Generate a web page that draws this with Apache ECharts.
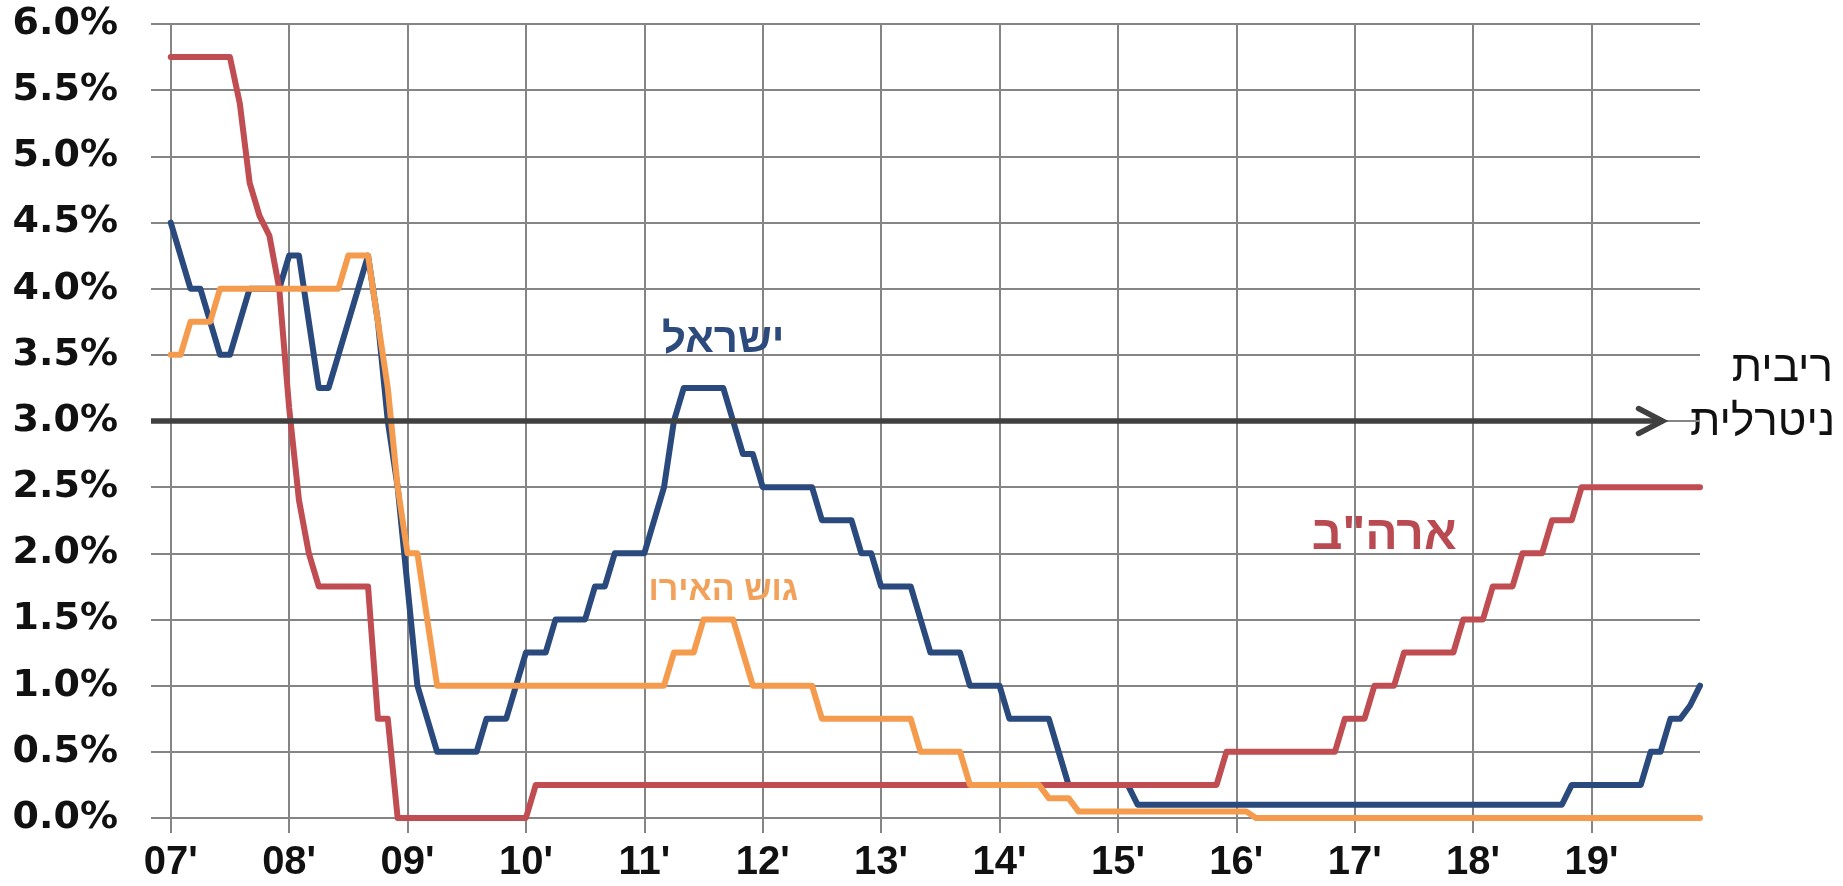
<!DOCTYPE html>
<html>
<head>
<meta charset="utf-8">
<script src="https://cdn.jsdelivr.net/npm/echarts@6.0.0/dist/echarts.min.js"></script>
<style>
html,body{margin:0;padding:0;background:#ffffff;}
#chart{width:1843px;height:886px;}
</style>
</head>
<body>
<div id="chart"></div>
<script>
// ---------- data ----------
// monthly axis: Nov 2006 .. Dec 2019 (first data month is Jan 2007)
const axisStart = [2006, 11];
const axisEnd = [2019, 12];
const firstDataMonth = '2007-01';

const yearLabels = ["07'", "08'", "09'", "10'", "11'", "12'", "13'", "14'", "15'", "16'", "17'", "18'", "19'"];
const yTicks = [0, 0.5, 1, 1.5, 2, 2.5, 3, 3.5, 4, 4.5, 5, 5.5, 6];

// Israel (monthly, Jan 2007 .. Dec 2019)
const israel = [
  4.5, 4.25, 4.0, 4.0, 3.75, 3.5, 3.5, 3.75, 4.0, 4.0, 4.0, 4.0,
  4.25, 4.25, 3.75, 3.25, 3.25, 3.5, 3.75, 4.0, 4.25, 3.75, 3.0, 2.5,
  1.75, 1.0, 0.75, 0.5, 0.5, 0.5, 0.5, 0.5, 0.75, 0.75, 0.75, 1.0,
  1.25, 1.25, 1.25, 1.5, 1.5, 1.5, 1.5, 1.75, 1.75, 2.0, 2.0, 2.0,
  2.0, 2.25, 2.5, 3.0, 3.25, 3.25, 3.25, 3.25, 3.25, 3.0, 2.75, 2.75,
  2.5, 2.5, 2.5, 2.5, 2.5, 2.5, 2.25, 2.25, 2.25, 2.25, 2.0, 2.0,
  1.75, 1.75, 1.75, 1.75, 1.5, 1.25, 1.25, 1.25, 1.25, 1.0, 1.0, 1.0,
  1.0, 0.75, 0.75, 0.75, 0.75, 0.75, 0.5, 0.25, 0.25, 0.25, 0.25, 0.25,
  0.25, 0.25, 0.1, 0.1, 0.1, 0.1, 0.1, 0.1, 0.1, 0.1, 0.1, 0.1,
  0.1, 0.1, 0.1, 0.1, 0.1, 0.1, 0.1, 0.1, 0.1, 0.1, 0.1, 0.1,
  0.1, 0.1, 0.1, 0.1, 0.1, 0.1, 0.1, 0.1, 0.1, 0.1, 0.1, 0.1,
  0.1, 0.1, 0.1, 0.1, 0.1, 0.1, 0.1, 0.1, 0.1, 0.1, 0.25, 0.25,
  0.25, 0.25, 0.25, 0.25, 0.25, 0.25, 0.5, 0.5, 0.75, 0.75, 0.85, 1.0
];

// USA
const usa = [
  5.75, 5.75, 5.75, 5.75, 5.75, 5.75, 5.75, 5.4, 4.8, 4.55, 4.4, 4.0,
  3.1, 2.4, 2.0, 1.75, 1.75, 1.75, 1.75, 1.75, 1.75, 0.75, 0.75, 0.0,
  0.0, 0.0, 0.0, 0.0, 0.0, 0.0, 0.0, 0.0, 0.0, 0.0, 0.0, 0.0,
  0.0, 0.25, 0.25, 0.25, 0.25, 0.25, 0.25, 0.25, 0.25, 0.25, 0.25, 0.25,
  0.25, 0.25, 0.25, 0.25, 0.25, 0.25, 0.25, 0.25, 0.25, 0.25, 0.25, 0.25,
  0.25, 0.25, 0.25, 0.25, 0.25, 0.25, 0.25, 0.25, 0.25, 0.25, 0.25, 0.25,
  0.25, 0.25, 0.25, 0.25, 0.25, 0.25, 0.25, 0.25, 0.25, 0.25, 0.25, 0.25,
  0.25, 0.25, 0.25, 0.25, 0.25, 0.25, 0.25, 0.25, 0.25, 0.25, 0.25, 0.25,
  0.25, 0.25, 0.25, 0.25, 0.25, 0.25, 0.25, 0.25, 0.25, 0.25, 0.25, 0.5,
  0.5, 0.5, 0.5, 0.5, 0.5, 0.5, 0.5, 0.5, 0.5, 0.5, 0.5, 0.75,
  0.75, 0.75, 1.0, 1.0, 1.0, 1.25, 1.25, 1.25, 1.25, 1.25, 1.25, 1.5,
  1.5, 1.5, 1.75, 1.75, 1.75, 2.0, 2.0, 2.0, 2.25, 2.25, 2.25, 2.5,
  2.5, 2.5, 2.5, 2.5, 2.5, 2.5, 2.5, 2.5, 2.5, 2.5, 2.5, 2.5
];

// Euro area
const euro = [
  3.5, 3.5, 3.75, 3.75, 3.75, 4.0, 4.0, 4.0, 4.0, 4.0, 4.0, 4.0,
  4.0, 4.0, 4.0, 4.0, 4.0, 4.0, 4.25, 4.25, 4.25, 3.75, 3.25, 2.5,
  2.0, 2.0, 1.5, 1.0, 1.0, 1.0, 1.0, 1.0, 1.0, 1.0, 1.0, 1.0,
  1.0, 1.0, 1.0, 1.0, 1.0, 1.0, 1.0, 1.0, 1.0, 1.0, 1.0, 1.0,
  1.0, 1.0, 1.0, 1.25, 1.25, 1.25, 1.5, 1.5, 1.5, 1.5, 1.25, 1.0,
  1.0, 1.0, 1.0, 1.0, 1.0, 1.0, 0.75, 0.75, 0.75, 0.75, 0.75, 0.75,
  0.75, 0.75, 0.75, 0.75, 0.5, 0.5, 0.5, 0.5, 0.5, 0.25, 0.25, 0.25,
  0.25, 0.25, 0.25, 0.25, 0.25, 0.15, 0.15, 0.15, 0.05, 0.05, 0.05, 0.05,
  0.05, 0.05, 0.05, 0.05, 0.05, 0.05, 0.05, 0.05, 0.05, 0.05, 0.05, 0.05,
  0.05, 0.05, 0.0, 0.0, 0.0, 0.0, 0.0, 0.0, 0.0, 0.0, 0.0, 0.0,
  0.0, 0.0, 0.0, 0.0, 0.0, 0.0, 0.0, 0.0, 0.0, 0.0, 0.0, 0.0,
  0.0, 0.0, 0.0, 0.0, 0.0, 0.0, 0.0, 0.0, 0.0, 0.0, 0.0, 0.0,
  0.0, 0.0, 0.0, 0.0, 0.0, 0.0, 0.0, 0.0, 0.0, 0.0, 0.0, 0.0
];

// annotations
const neutralRate = 3.0;
const neutralLabel = ['ריבית', 'ניטרלית'];
const arrowFrom = '2006-11';
const arrowTo = '2019-08';
const seriesNames = ['ישראל', 'ארה"ב', 'גוש האירו'];
const labelAnchors = [['2011-09', 3.61], ['2017-04', 2.13], ['2011-09', 1.72]];

// ---------- build ----------
const categories = [];
for (let y = axisStart[0], m = axisStart[1]; y < axisEnd[0] || (y === axisEnd[0] && m <= axisEnd[1]); ) {
  categories.push(y + '-' + String(m).padStart(2, '0'));
  m++; if (m > 12) { m = 1; y++; }
}
const lead = categories.indexOf(firstDataMonth);
const pad = (arr) => new Array(lead).fill(null).concat(arr);
const isYearStart = (idx) => !!categories[idx] && categories[idx].endsWith('-01');
const yearLabel = (val) => yearLabels[parseInt(val.slice(0, 4), 10) - 2007] || '';

const colors = ['#2a4a7e', '#bf4d51', '#f59b4e'];
const labelColors = ['#2c4a7c', '#b94a52', '#f2a15a'];
const labelSizes = [42, 48, 34];
const gridColor = '#858585';
const arrowColor = '#404040';

function mkSeries(i, values, extra) {
  const s = {
    name: seriesNames[i],
    type: 'line',
    data: pad(values),
    showSymbol: false,
    symbol: 'none',
    connectNulls: false,
    lineStyle: { color: colors[i], width: 6, join: 'round', cap: 'round' },
    itemStyle: { color: colors[i] },
    emphasis: { disabled: true },
    animation: false,
    markPoint: {
      silent: true,
      animation: false,
      symbol: 'circle',
      symbolSize: 0,
      data: [{
        coord: labelAnchors[i],
        label: {
          show: true,
          position: 'inside',
          formatter: seriesNames[i],
          fontFamily: 'Liberation Sans, DejaVu Sans, sans-serif',
          fontWeight: 'bold',
          fontSize: labelSizes[i],
          color: labelColors[i]
        }
      }]
    }
  };
  return Object.assign(s, extra || {});
}

const chart = echarts.init(document.getElementById('chart'), null, { renderer: 'canvas' });
const option = {
  backgroundColor: '#ffffff',
  animation: false,
  grid: { left: 151, right: 143, top: 24, bottom: 68, containLabel: false, outerBoundsMode: 'none' },
  xAxis: {
    type: 'category',
    data: categories,
    boundaryGap: false,
    axisLine: { show: false },
    axisTick: { show: true, interval: (idx) => isYearStart(idx), length: 15, lineStyle: { color: gridColor, width: 2 } },
    axisLabel: {
      show: true,
      interval: (idx) => isYearStart(idx),
      formatter: (val) => yearLabel(val),
      margin: 25,
      fontFamily: 'Liberation Sans, Arial, sans-serif',
      fontWeight: 'bold',
      fontSize: 40,
      color: '#111111'
    },
    splitLine: { show: true, interval: (idx) => isYearStart(idx), lineStyle: { color: gridColor, width: 2 } }
  },
  yAxis: {
    type: 'value',
    min: yTicks[0],
    max: yTicks[yTicks.length - 1],
    interval: 0.5,
    axisLine: { show: false },
    axisTick: { show: false },
    axisLabel: {
      formatter: (v) => v.toFixed(1) + '%',
      margin: 33,
      fontFamily: 'DejaVu Sans, Verdana, sans-serif',
      fontWeight: 'bold',
      fontSize: 38,
      color: '#111111'
    },
    splitLine: { show: true, lineStyle: { color: gridColor, width: 2 } }
  },
  series: [
    mkSeries(0, israel),
    mkSeries(1, usa),
    mkSeries(2, euro, {
      markLine: {
        silent: true,
        animation: false,
        symbol: ['none', 'none'],
        label: { show: false },
        emphasis: { disabled: true },
        lineStyle: { color: arrowColor, width: 5.5, type: 'solid', cap: 'butt' },
        data: [[{ coord: [arrowFrom, neutralRate] }, { coord: [arrowTo, neutralRate] }]]
      }
    })
  ],
  graphic: [
    {
      id: 'nl1', type: 'text', right: 10, top: 347, silent: true,
      style: { text: neutralLabel[0], font: '44px "Liberation Sans", "DejaVu Sans", sans-serif', fill: '#111111', align: 'right' }
    },
    {
      id: 'nl2', type: 'text', right: 8, top: 401, silent: true,
      style: { text: neutralLabel[1], font: '44px "Liberation Sans", "DejaVu Sans", sans-serif', fill: '#111111', align: 'right' }
    }
  ]
};
chart.setOption(option);

// open chevron arrow head at the end of the neutral-rate line, placed through the axis scales
const tip = chart.convertToPixel({ gridIndex: 0 }, [arrowTo, neutralRate]);
chart.setOption({
  graphic: [{
    id: 'arrowHead', type: 'polyline', silent: true, z: 100,
    shape: { points: [[tip[0] - 22, tip[1] - 12.5], [tip[0] + 2, tip[1]], [tip[0] - 22, tip[1] + 12.5]] },
    style: { stroke: arrowColor, lineWidth: 5.5, fill: null, lineCap: 'round', lineJoin: 'miter' }
  }]
});
</script>
</body>
</html>
